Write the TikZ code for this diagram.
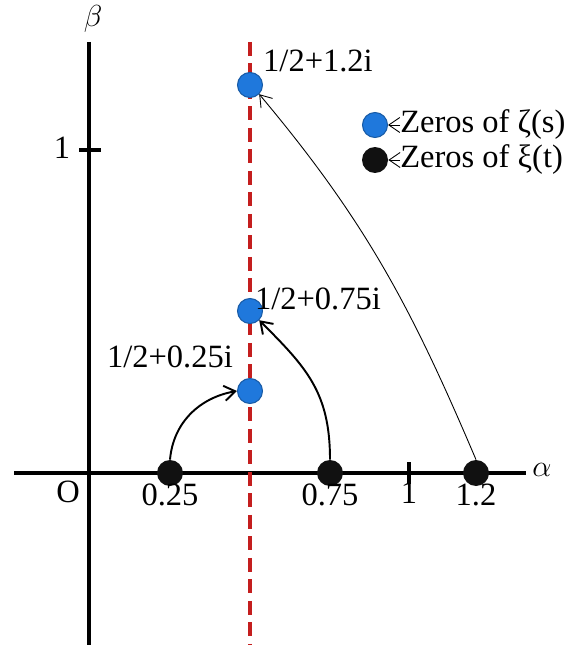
\documentclass[tikz,border=0pt]{standalone}
\usepackage{fontspec}
\setmainfont{Liberation Serif}
\usepackage{tikz}
\usetikzlibrary{positioning,calc,arrows.meta}
\definecolor{ZBlue}{HTML}{1F78DC}
\definecolor{ZRed}{HTML}{C41E1E}
\definecolor{ZDot}{HTML}{111111}

\begin{document}
\begin{tikzpicture}[x=0.02cm, y=-0.02cm,
  axisline/.style={line width=2.6pt, black},
  crit/.style={ZRed, line width=2pt, dash pattern=on 0.28cm off 0.15cm},
  zetapt/.style={circle, fill=ZBlue, draw=ZBlue!75!black, line width=0.6pt, minimum size=0.5cm, inner sep=0pt},
  xipt/.style={circle, fill=ZDot, minimum size=0.52cm, inner sep=0pt},
  numlabel/.style={font=\fontsize{18.5}{22}\selectfont},
  conn/.style={-{Straight Barb[length=2.2mm,width=3mm]}, line width=1.1pt},
  thinconn/.style={-{Straight Barb[length=2.2mm,width=3mm]}, line width=0.5pt}]
\useasboundingbox (0,0) rectangle (576,645);
% axes
\draw[axisline] (89,42) -- (89,645);
\draw[axisline] (14,473) -- (526,473);
\draw[axisline] (79,150) -- (101,150);
\draw[axisline] (409,462) -- (409,484);
\node[font=\LARGE] (beta) at (93,19) {$\beta$};
\node[font=\LARGE] (alpha) at (542,470) {$\alpha$};
\node[numlabel] (one-y) at (62,148) {1};
\node[numlabel] (orig) at (68,492) {O};
% critical line
\draw[crit] (250,42) -- (250,645);
% zeros of xi on the real axis
\node[xipt] (x025) at (170,473) {};
\node[xipt] (x075) at (330,473) {};
\node[xipt] (x12) at (476,473) {};
\node[numlabel] (l025) at (170,495) {0.25};
\node[numlabel] (l075) at (330,495) {0.75};
\node[numlabel] (l1) at (409,493) {1};
\node[numlabel] (l12) at (476,495) {1.2};
% zeros of zeta on the critical line
\node[zetapt] (z025) at (250,391) {};
\node[zetapt] (z075) at (250,311) {};
\node[zetapt] (z12) at (250,85) {};
\node[numlabel] (t025) at (170,357) {1/2+0.25i};
\node[numlabel] (t075) at (318,299) {1/2+0.75i};
\node[numlabel] (t12) at (318,61) {1/2+1.2i};
% mapping arrows
\draw[conn] (x025.north) to[out=85, in=190] (z025.west);
\draw[conn] (x075.north) to[out=90, in=-45, looseness=1.1] (z075.south east);
\draw[thinconn] (x12.north) to[out=113, in=-50] (z12.south east);
% legend
\node[zetapt] (lgz) at (375,125) {};
\node[xipt] (lgx) at (375,160) {};
\node[numlabel, anchor=west, inner sep=0pt] (lgzt) at (400,125) {Zeros of ζ(s)};
\node[numlabel, anchor=west, inner sep=0pt] (lgxt) at (400,160) {Zeros of ξ(t)};
\draw[thinconn] (lgzt.west) -- (lgz.east);
\draw[thinconn] (lgxt.west) -- (lgx.east);
\end{tikzpicture}
\end{document}
